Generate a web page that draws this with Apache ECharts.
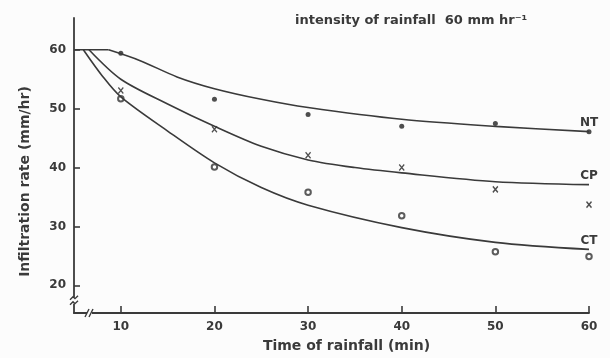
<!DOCTYPE html>
<html>
<head>
<meta charset="utf-8">
<script src="https://cdn.jsdelivr.net/npm/echarts@6/dist/echarts.min.js"></script>
<style>
  html, body { margin: 0; padding: 0; background: #fcfcfc; }
  #chart { width: 610px; height: 358px; }
</style>
</head>
<body>
<div id="chart"></div>
<script>
// ---- data ----
const xTicks = [10, 20, 30, 40, 50, 60];
const yTicks = [20, 30, 40, 50, 60];
const times = [10, 20, 30, 40, 50, 60];
const ntObs = [59.4, 51.6, 49.0, 47.0, 47.5, 46.1];
const cpObs = [53.1, 46.5, 42.1, 40.0, 36.3, 33.7];
const ctObs = [51.7, 40.1, 35.8, 31.8, 25.7, 24.9];

// initial plateau (infiltration = rainfall intensity)
const plateauX = [5, 8.7];
const plateauY = [60, 60];
// fitted curves
const ntCurveX = [8.7, 12, 16, 20, 25, 30, 40, 50, 60];
const ntCurveY = [60, 58.2, 55.4, 53.4, 51.6, 50.2, 48.2, 47.0, 46.1];
const cpCurveX = [6.6, 10, 15, 20, 25, 30, 35, 40, 50, 60];
const cpCurveY = [60, 55.0, 50.8, 47.0, 43.6, 41.3, 40.0, 39.1, 37.6, 37.1];
const ctCurveX = [6.0, 8.0, 10, 15, 20, 25, 30, 40, 50, 60];
const ctCurveY = [60, 55.6, 52.0, 46.2, 40.8, 36.6, 33.6, 29.8, 27.3, 26.1];

const curveNames = ['NT', 'CP', 'CT'];
const titleText = 'intensity of rainfall  60 mm hr\u207B\u00B9';
const xName = 'Time of rainfall (min)';
const yName = 'Infiltration rate (mm/hr)';

const INK = '#3a3a3a';
const FONT = 'DejaVu Sans';

function pairs(xs, ys) { return xs.map((x, i) => [x, ys[i]]); }
function curve(xs, ys, name) {
  return {
    type: 'line', data: pairs(xs, ys), smooth: 0.3,
    symbol: 'none', silent: true,
    lineStyle: { color: INK, width: 1.6 },
    endLabel: {
      show: true, formatter: name, color: INK, fontFamily: FONT, fontSize: 12, fontWeight: 'bold',
      align: 'center', verticalAlign: 'bottom', distance: 0, offset: [0, -3]
    }
  };
}

const chart = echarts.init(document.getElementById('chart'), null, { renderer: 'canvas' });
const option = {
  backgroundColor: '#fcfcfc',
  animation: false,
  grid: { left: 74, right: 21, top: 18, bottom: 43, containLabel: false },
  title: {
    text: titleText, left: 290, top: 9,
    textStyle: { color: INK, fontFamily: FONT, fontSize: 13, fontWeight: 'bold' }
  },
  xAxis: {
    type: 'value', min: 5, max: 60,
    name: xName, nameLocation: 'middle', nameGap: 26,
    nameTextStyle: { color: INK, fontFamily: FONT, fontSize: 14, fontWeight: 'bold', padding: [0, 0, 0, 30] },
    axisLine: { show: true, lineStyle: { color: INK, width: 1.8 } },
    axisTick: { show: true, inside: true, length: 7, customValues: xTicks, lineStyle: { color: INK, width: 1.6 } },
    axisLabel: { customValues: xTicks, color: INK, fontFamily: FONT, fontSize: 12, fontWeight: 'bold', margin: 8 },
    splitLine: { show: false }
  },
  yAxis: {
    type: 'value', min: 15.3, max: 65.4,
    name: yName, nameLocation: 'middle', nameGap: 42, nameRotate: 90,
    nameTextStyle: { color: INK, fontFamily: FONT, fontSize: 14, fontWeight: 'bold', padding: [0, 32, 0, 0] },
    axisLine: { show: true, lineStyle: { color: INK, width: 1.8 } },
    axisTick: { show: true, inside: true, length: 6, customValues: yTicks, lineStyle: { color: INK, width: 1.6 } },
    axisLabel: { customValues: yTicks, color: INK, fontFamily: FONT, fontSize: 12, fontWeight: 'bold', margin: 8 },
    splitLine: { show: false }
  },
  series: [
    { type: 'line', data: pairs(plateauX, plateauY), symbol: 'none', silent: true,
      lineStyle: { color: INK, width: 1.6 } },
    curve(ntCurveX, ntCurveY, curveNames[0]),
    curve(cpCurveX, cpCurveY, curveNames[1]),
    curve(ctCurveX, ctCurveY, curveNames[2]),
    { name: 'NT obs', type: 'scatter', data: pairs(times, ntObs), symbol: 'circle', symbolSize: 5,
      itemStyle: { color: '#222' } },
    { name: 'CP obs', type: 'scatter', data: pairs(times, cpObs), symbol: 'path://M0,0L10,10M10,0L0,10',
      symbolSize: [5, 6], itemStyle: { color: 'none', borderColor: '#222', borderWidth: 1.4 } },
    { name: 'CT obs', type: 'scatter', data: pairs(times, ctObs), symbol: 'emptyCircle', symbolSize: 5.5,
      itemStyle: { color: '#333', borderColor: '#333', borderWidth: 1.1 } }
  ]
};
chart.setOption(option);

// axis break marks
const yb = chart.convertToPixel({ gridIndex: 0 }, [5, 17.4]);
const xb = chart.convertToPixel({ gridIndex: 0 }, [6.6, 15.3]);
chart.setOption({
  graphic: [
    { type: 'rect', shape: { x: yb[0] - 3, y: yb[1] - 3, width: 6, height: 6 }, style: { fill: '#fcfcfc' }, z: 100 },
    { type: 'polyline', shape: { points: [[yb[0] - 4, yb[1] - 1], [yb[0] - 1, yb[1] - 4], [yb[0] + 1, yb[1] - 2], [yb[0] + 4, yb[1] - 5]] },
      style: { stroke: INK, lineWidth: 1.4, fill: 'none' }, z: 101 },
    { type: 'polyline', shape: { points: [[yb[0] - 4, yb[1] + 4], [yb[0] - 1, yb[1] + 1], [yb[0] + 1, yb[1] + 3], [yb[0] + 4, yb[1]]] },
      style: { stroke: INK, lineWidth: 1.4, fill: 'none' }, z: 101 },
    { type: 'rect', shape: { x: xb[0] - 2, y: xb[1] - 3, width: 5, height: 6 }, style: { fill: '#fcfcfc' }, z: 100 },
    { type: 'line', shape: { x1: xb[0] - 4, y1: xb[1] + 4, x2: xb[0], y2: xb[1] - 4 }, style: { stroke: INK, lineWidth: 1.4 }, z: 101 },
    { type: 'line', shape: { x1: xb[0], y1: xb[1] + 4, x2: xb[0] + 4, y2: xb[1] - 4 }, style: { stroke: INK, lineWidth: 1.4 }, z: 101 }
  ]
});
</script>
</body>
</html>
